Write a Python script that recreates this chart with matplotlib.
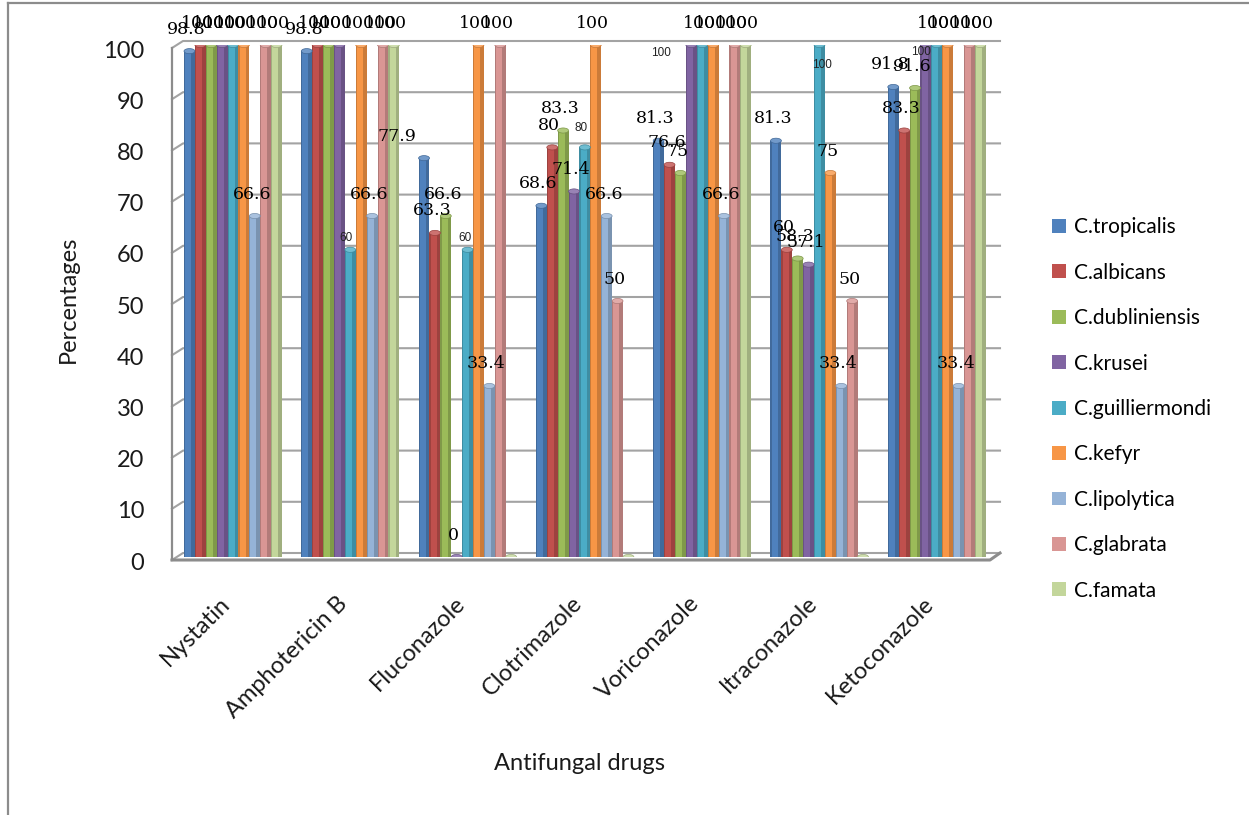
import numpy as np
import matplotlib
matplotlib.use('Agg')
import matplotlib.pyplot as plt
from matplotlib.patches import Ellipse, Patch
from matplotlib.lines import Line2D
from matplotlib.transforms import IdentityTransform, ScaledTranslation
from matplotlib.colors import to_rgb

plt.rcParams['font.family'] = ['Lato', 'DejaVu Sans']

# Daten
drugs = ['Nystatin', 'Amphotericin B', 'Fluconazole', 'Clotrimazole',
         'Voriconazole', 'Itraconazole', 'Ketoconazole']
species = ['C.tropicalis', 'C.albicans', 'C.dubliniensis', 'C.krusei',
           'C.guilliermondi', 'C.kefyr', 'C.lipolytica', 'C.glabrata', 'C.famata']

tropicalis = [98.8, 98.8, 77.9, 68.6, 81.3, 81.3, 91.8]
albicans = [100, 100, 63.3, 80, 76.6, 60, 83.3]
dubliniensis = [100, 100, 66.6, 83.3, 75, 58.3, 91.6]
krusei = [100, 100, 0, 71.4, 100, 57.1, 100]
guilliermondi = [100, 60, 60, 80, 100, 100, 100]
kefyr = [100, 100, 100, 100, 100, 75, 100]
lipolytica = [66.6, 66.6, 33.4, 66.6, 66.6, 33.4, 33.4]
glabrata = [100, 100, 100, 50, 100, 50, 100]
famata = [100, 100, 0, 0, 100, 0, 100]

series = [tropicalis, albicans, dubliniensis, krusei, guilliermondi,
          kefyr, lipolytica, glabrata, famata]
colors = ['#4F81BD', '#C0504D', '#9BBB59', '#8064A2', '#4BACC6',
          '#F79646', '#95B3D7', '#D99694', '#C3D69B']

# (lek, seria) -> etykieta mala / ukryta
small_labels = {(1, 4): (-4, 12), (2, 4): (-3, 12), (3, 4): (-4, 19),
                (4, 3): (-30, -8), (5, 4): (2, -20), (6, 3): (-5, -7)}
hidden_labels = {(2, 8), (3, 8), (5, 8)}
label_shift = {(2, 0): (-27, 22)}

W, H = 1249, 815
fig = plt.figure(figsize=(W / 100, H / 100), dpi=100)
x_left, x_right = 183, 1000
y_zero, y_full = 557, 45
ax = fig.add_axes([x_left / W, 1 - y_zero / H, (x_right - x_left) / W, (y_zero - y_full) / H])
c0, step = 233, 117.3
ax.set_xlim((x_left - c0) / step, (x_right - c0) / step)
ax.set_ylim(0, 100)
for s in ax.spines.values():
    s.set_visible(False)

bw = 98 / step / 9
cap_h = 1.0


def shade(c, f):
    r = np.array(to_rgb(c))
    return tuple(r * f) if f < 1 else tuple(r + (1 - r) * (f - 1))


x = np.arange(len(drugs))
for j, (vals, col) in enumerate(zip(series, colors)):
    xs = x + (j - 4) * bw
    ax.bar(xs, vals, bw, color=shade(col, 0.82), linewidth=0, zorder=3)
    ax.bar(xs - 0.12 * bw, vals, bw * 0.55, color=col, linewidth=0, zorder=3.1)
    for i, (xi, v) in enumerate(zip(xs, vals)):
        ax.add_patch(Ellipse((xi, v), bw, cap_h, facecolor=shade(col, 1.2),
                             edgecolor=shade(col, 0.8), linewidth=0.5, zorder=3.2))
        if (i, j) in hidden_labels:
            continue
        txt = f'{v:g}'
        if (i, j) in small_labels:
            ax.annotate(txt, (xi, v), xytext=small_labels[(i, j)], textcoords='offset pixels',
                        ha='center', va='center', fontsize=8.5, family='Liberation Sans',
                        color='#222222', zorder=6, annotation_clip=False)
        else:
            ax.annotate(txt, (xi, v), xytext=label_shift.get((i, j), (-3, 22)),
                        textcoords='offset pixels', ha='center', va='center',
                        fontsize=12.5, family='DejaVu Serif', color='black',
                        zorder=6, annotation_clip=False)

# siatka 3D (sciana tylna + boczna + podloga), za slupkami
fig.canvas.draw()
T = ax.transData
xa, xb = ax.get_xlim()
gcol = '#a3a3a3'
for v in range(0, 101, 10):
    pa = T.transform((xa, v))
    pb = T.transform((xb, v))
    ax.add_line(Line2D([pa[0] - 11, pa[0], pb[0]], [pa[1] - 3, pa[1] + 4, pb[1] + 4],
                       transform=IdentityTransform(), color=gcol, lw=1.5, zorder=1,
                       clip_on=False))
p0 = T.transform((xa, 0))
p100 = T.transform((xa, 100))
q0 = T.transform((xb, 0))
ax.add_line(Line2D([p0[0] - 11, p100[0] - 11], [p0[1] - 3, p100[1] - 3],
                   transform=IdentityTransform(), color='#8c8c8c', lw=1.6, zorder=1,
                   clip_on=False))
ax.add_line(Line2D([p0[0] - 11, q0[0] - 10, q0[0]], [p0[1] - 3, q0[1] - 3, q0[1] + 4],
                   transform=IdentityTransform(), color='#8c8c8c', lw=2.2, zorder=1.5,
                   clip_on=False))

ax.set_yticks(range(0, 101, 10))
ax.tick_params(axis='y', length=0, pad=28, labelsize=17, labelcolor='#1a1a1a')
for lbl in ax.get_yticklabels():
    lbl.set_transform(lbl.get_transform() + ScaledTranslation(0, -4 / 100, fig.dpi_scale_trans))
ax.set_xticks(x)
ax.set_xticklabels(drugs, rotation=45, ha='right', va='center', rotation_mode='anchor')
ax.tick_params(axis='x', length=0, pad=31, labelsize=17, labelcolor='#1a1a1a')
for lbl in ax.get_xticklabels():
    lbl.set_transform(lbl.get_transform() + ScaledTranslation(-6 / 100, 0, fig.dpi_scale_trans))

fig.text(580 / W, 1 - 764 / H, 'Antifungal drugs', ha='center', va='center', fontsize=17, color='#1a1a1a')
fig.text(68 / W, 1 - 299 / H, 'Percentages', ha='center', va='center', rotation=90,
         fontsize=17, color='#1a1a1a')

handles = [Patch(facecolor=c, edgecolor='none', label=s) for s, c in zip(species, colors)]
fig.legend(handles=handles, loc='center left', bbox_to_anchor=(1052 / W, 1 - 409 / H),
           frameon=False, fontsize=15, labelspacing=1.22, handlelength=0.65, handleheight=0.65,
           handletextpad=0.4, borderpad=0, borderaxespad=0)

# ramka wykresu
fig.add_artist(Line2D([8 / W, 1], [1 - 3 / H, 1 - 3 / H], transform=fig.transFigure,
                      color='#8c8c8c', lw=1.6))
fig.add_artist(Line2D([8 / W, 8 / W], [0, 1 - 3 / H], transform=fig.transFigure,
                      color='#8c8c8c', lw=1.6))

fig.savefig('out.png', dpi=100)
